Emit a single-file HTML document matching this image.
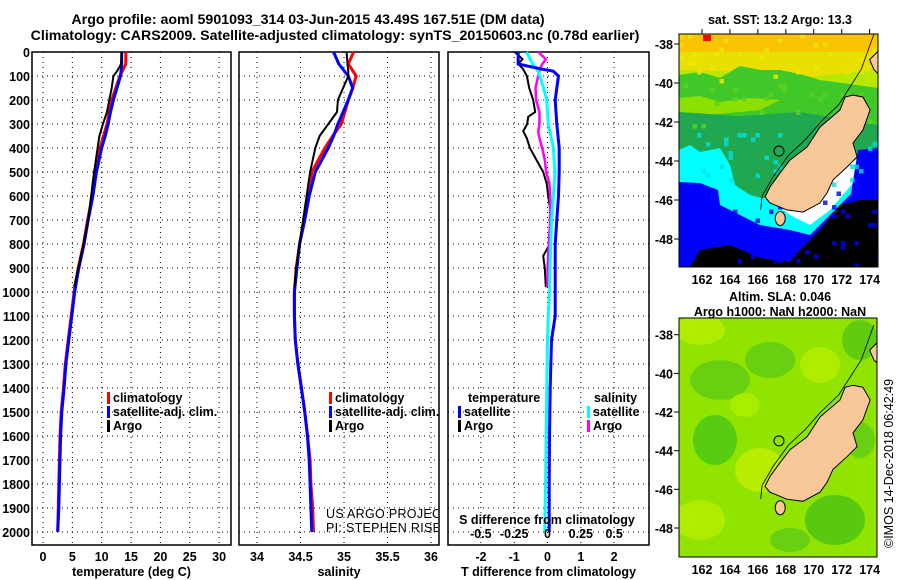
<!DOCTYPE html>
<html><head><meta charset="utf-8"><style>
html,body{margin:0;padding:0;background:#fff;}
svg{display:block;font-family:"Liberation Sans",sans-serif;}
.b{font-weight:bold;font-size:12.5px;}
</style></head><body>
<svg id="fig" width="900" height="580" viewBox="0 0 900 580" xmlns="http://www.w3.org/2000/svg">
<text class="b" x="308" y="24" text-anchor="middle" style="font-size:14.2px">Argo profile: aoml 5901093_314 03-Jun-2015 43.49S 167.51E (DM data)</text>
<text class="b" x="335" y="40" text-anchor="middle" style="font-size:14.2px">Climatology: CARS2009. Satellite-adjusted climatology: synTS_20150603.nc (0.78d earlier)</text>
<g id="maps"></g>
<g id="plots"></g>
</svg>
<script>
// ---- profile data ----
const tDepth = [0,50,100,150,200,250,300,350,400,500,600,700,800,900,1000,1100,1200,1300,1400,1500,1600,1700,1800,1900,2000];
const tClim  = [14.1,14.1,13.1,12.4,11.7,11.3,10.9,10.3,9.7,9.0,8.4,7.6,6.9,6.0,5.3,4.8,4.3,3.8,3.5,3.1,2.9,2.8,2.7,2.6,2.5];
const tSat   = [13.4,13.4,13.2,12.6,12.0,11.5,11.1,10.6,10.0,9.1,8.5,7.7,7.0,6.1,5.4,4.9,4.4,3.9,3.6,3.2,3.0,2.9,2.8,2.7,2.5];
const aDepth = [0,50,80,100,150,200,250,300,350,400,500,600,700,800,900,980];
const tArgo  = [13.4,13.3,12.6,12.0,11.7,11.3,10.9,10.2,9.6,9.3,8.7,8.2,7.7,6.9,6.0,5.3];
const sClim  = [35.11,35.05,35.14,35.10,35.05,35.01,34.97,34.87,34.78,34.63,34.59,34.54,34.49,34.45,34.43,34.43,34.44,34.47,34.51,34.55,34.58,34.61,34.62,34.64,34.65];
const sSat   = [34.88,34.94,35.05,35.10,35.05,34.99,34.93,34.88,34.82,34.67,34.60,34.55,34.49,34.46,34.43,34.43,34.44,34.47,34.51,34.55,34.58,34.60,34.61,34.62,34.63];
const sArgo  = [35.03,35.04,35.05,35.05,34.99,34.93,34.92,34.82,34.72,34.67,34.61,34.57,34.53,34.49,34.45,34.43];
// differences
const dDepth = [0,30,50,70,100,150,200,250,270,300,330,360,400,450,500,550,600,700,800,850,900,980];
const dTArgo = [-0.98,-0.75,-0.88,-0.74,-0.62,-0.55,-0.43,-0.37,-0.58,-0.61,-0.73,-0.62,-0.53,-0.33,-0.13,-0.02,0.02,0.13,0.07,-0.13,-0.08,-0.05];
const dSArgo = [-0.07,-0.011,-0.04,-0.056,-0.07,-0.09,-0.085,-0.06,-0.06,-0.06,-0.07,-0.06,-0.04,-0.02,-0.01,0.015,0.02,0.02,0.01,0.005,0.0,0.0];
const sdDepth = [0,30,50,70,80,100,150,200,300,400,500,600,700,800,900,1000,1100,1200,1400,1600,1800,2000];
const dTSat  = [-0.88,-0.88,-0.88,-0.22,0.17,0.33,0.28,0.23,0.28,0.35,0.35,0.33,0.28,0.23,0.23,0.23,0.23,0.12,0.08,0.06,0.05,0.05];
const dSSat  = [-0.156,-0.13,-0.11,-0.08,-0.07,-0.056,-0.03,-0.006,0.006,0.044,0.056,0.044,0.03,0.025,0.019,0.015,0.006,0.0,-0.005,-0.01,-0.015,-0.02];
const depthTicks = [0,100,200,300,400,500,600,700,800,900,1000,1100,1200,1300,1400,1500,1600,1700,1800,1900,2000];
const tTicks = [0,5,10,15,20,25,30];
const sTicks = [34,34.5,35,35.5,36];
const sTickLabels = ["34","34.5","35","35.5","36"];
const dTTicks = [-2,-1,0,1,2];
const dSTicks = [-0.5,-0.25,0,0.25,0.5];
const dSTickLabels = ["-0.5","-0.25","0","0.25","0.5"];
// island outline (lon,lat)
const islandLon = [172.81,172.24,171.88,170.45,169.52,168.30,167.58,166.87,166.51,166.87,168.08,169.23,170.45,170.95,171.38,172.38,173.10,172.81,173.52,174.03,173.52];
const islandLat = [-40.62,-40.72,-41.38,-42.26,-43.28,-43.95,-44.62,-45.33,-45.85,-46.15,-46.51,-46.62,-46.15,-45.64,-44.97,-44.31,-43.79,-43.08,-42.41,-41.38,-40.72];
const lonTicks = [162,164,166,168,170,172,174];
const latTicks = [-38,-40,-42,-44,-46,-48];
const argoLon = 167.51, argoLat = -43.49;

const NS="http://www.w3.org/2000/svg";
const plots=document.getElementById('plots'), maps=document.getElementById('maps');
function mk(tag,attrs,parent,txt){const e=document.createElementNS(NS,tag);for(const k in attrs)e.setAttribute(k,attrs[k]);if(txt!==undefined)e.textContent=txt;(parent||plots).appendChild(e);return e;}
const Y=d=>52+d*0.24;
const TOP=52,BOT=545;

function panel(name,x0,x1,xs,ticks,labels,xtitle){
  const g=mk('g',{},plots);
  
  
  const fr=mk('rect',{x:x0,y:TOP,width:x1-x0,height:BOT-TOP,fill:'#fff',stroke:'#000','stroke-width':1.5},g);
  
  
  depthTicks.forEach(d=>{const l=mk('line',{x1:x0,x2:x1,y1:Y(d),y2:Y(d),stroke:'#000','stroke-width':1,'stroke-dasharray':'1,4'},g);
    
    });
  ticks.forEach((t,i)=>{const x=xs(t);const l=mk('line',{x1:x,x2:x,y1:TOP,y2:BOT,stroke:'#000','stroke-width':1,'stroke-dasharray':'1,4'},g);
    
    
    if(labels){const t2=mk('text',{x:x,y:561,'text-anchor':'middle',class:'b'},g,labels[i]);
    
    }});
  if(xtitle){const t=mk('text',{x:(x0+x1)/2,y:576,'text-anchor':'middle',class:'b'},g,xtitle);
  
  }
  return g;
}
function line(g,xs,xv,dv,col,w,name){
  const pts=xv.map((v,i)=>xs(v).toFixed(1)+','+Y(dv[i]).toFixed(1)).join(' ');
  const p=mk('polyline',{points:pts,fill:'none',stroke:col,'stroke-width':w,'stroke-linejoin':'miter'},g);
  
  
}
function legend(g,x,y,col,label){
  const r=mk('rect',{x:x,y:y-10,width:3,height:12,fill:col},g);
  
  
  const t=mk('text',{x:x+6,y:y,class:'b'},g,label);
  
  
}
// y tick labels
depthTicks.forEach(d=>{const t=mk('text',{x:30,y:Y(d)+5,'text-anchor':'end',class:'b'},plots,String(d));
  
  });

// panel 1 temperature
const xT=v=>43+v*5.87;
const g1=panel('temperature-panel',32,231,xT,tTicks,tTicks.map(String),'temperature (deg C)');
line(g1,xT,tClim,tDepth,'#f00',3,'temperature-climatology-line');
line(g1,xT,tSat,tDepth,'#00f',3,'temperature-satellite-line');
line(g1,xT,tArgo,aDepth,'#000',2,'temperature-argo-line');
legend(g1,107,402,'#f00','climatology');
legend(g1,107,416,'#00f','satellite-adj. clim.');
legend(g1,107,430,'#000','Argo');

// panel 2 salinity
const xS=v=>257+(v-34)*87;
const g2=panel('salinity-panel',239,439,xS,sTicks,sTickLabels,'salinity');
line(g2,xS,sClim,tDepth,'#f00',3,'salinity-climatology-line');
line(g2,xS,sSat,tDepth,'#00f',3,'salinity-satellite-line');
line(g2,xS,sArgo,aDepth,'#000',2,'salinity-argo-line');
legend(g2,329,402,'#f00','climatology');
legend(g2,329,416,'#00f','satellite-adj. clim.');
legend(g2,329,430,'#000','Argo');
const cl=mk('clipPath',{id:'c2'},g2);mk('rect',{x:239,y:52,width:199,height:493},cl);
const cr=mk('g',{'clip-path':'url(#c2)'},g2);
const u1=mk('text',{x:326,y:518,'font-size':'12.5','letter-spacing':'0.3'},cr,'US ARGO PROJECT');


const u2=mk('text',{x:326,y:532,'font-size':'12.5','letter-spacing':'0.3'},cr,'PI: STEPHEN RISER');



// panel 3 differences
const xD=v=>547.5+v*33.3;
const xDS=v=>547.5+v*133.3;
const g3=panel('difference-panel',448,649,xD,dTTicks,dTTicks.map(String),'T difference from climatology');
line(g3,xD,dTArgo,dDepth,'#000',2,'t-diff-argo-line');
line(g3,xDS,dSArgo,dDepth,'#f0f',2.5,'s-diff-argo-line');
line(g3,xDS,dSSat,sdDepth,'#0ff',3,'s-diff-satellite-line');
line(g3,xD,dTSat,sdDepth,'#00f',3,'t-diff-satellite-line');
const lt=mk('text',{x:468,y:402,class:'b'},g3,'temperature');


legend(g3,458,416,'#00f','satellite');
legend(g3,458,430,'#000','Argo');
const ls=mk('text',{x:594,y:402,class:'b'},g3,'salinity');


legend(g3,587,416,'#0ff','satellite');
legend(g3,587,430,'#f0f','Argo');
const st=mk('text',{x:547,y:524,'text-anchor':'middle',class:'b'},g3,'S difference from climatology');


dSTicks.forEach((v,i)=>{const t=mk('text',{x:xDS(v),y:538,'text-anchor':'middle',class:'b'},g3,dSTickLabels[i]);
  
  });

// ---- maps ----
const LX=lon=>702+(lon-162)*13.97;
const L1Y=lat=>44+(-38-lat)*19.5;
const L2Y=lat=>334.7+(-38-lat)*19.33;
function mapFrame(name){
  const g=mk('g',{},maps);
  
  
  return g;
}
// map1 zones (SST image)
const m1=mapFrame('sst-map');
const cp1=mk('clipPath',{id:'cm1'},m1);mk('rect',{x:679,y:34,width:199,height:233},cp1);
const z1=mk('g',{'clip-path':'url(#cm1)'},m1);
const zones1=[
 ['#f8c400','679,34 878,34 878,70 679,70'],
 ['#e8e000','679,52 878,52 878,95 830,100 780,80 720,82 679,88'],
 ['#b8e800','679,70 760,72 800,78 878,70 878,120 679,118'],
 ['#40c828','679,75 700,72 720,78 740,66 760,70 780,70 800,74 820,80 878,88 878,125 679,112'],
 ['#8ce000','679,98 700,96 720,102 750,98 780,100 760,110 679,118'],
 ['#20a850','679,112 740,116 800,112 878,125 878,150 760,200 700,190 679,180'],
 ['#00ffff','679,150 690,145 700,152 720,148 730,165 735,185 750,195 770,200 790,215 810,225 830,210 860,175 878,160 878,200 800,245 720,250 679,230'],
 ['#0000ff','679,182 700,183 718,190 720,205 740,215 760,225 790,230 810,235 830,215 850,195 878,180 878,267 679,267'],
 ['#0000ff','858,150 878,148 878,190 850,200'],
 ['#000','700,250 730,245 760,258 790,262 800,250 820,230 840,205 860,200 878,200 878,267 690,267'],
];
zones1.forEach(z=>{const p=mk('polygon',{points:z[1],fill:z[0]},z1);
  
  });
mk('rect',{x:703,y:35,width:8,height:6,fill:'#f00'},z1);
// blocky texture
for(let i=0;i<45;i++){for(let j=0;j<52;j++){const h=Math.sin(i*12.9898+j*78.233)*43758.5453;const f=h-Math.floor(h);if(f<0.06){const x=679+i*4.5,y=34+j*4.5;mk('rect',{x:x,y:y,width:4.5,height:4.5,fill:y<80?'#f0e800':y<130?'#60d020':y<190?'#00e0e0':'#0000f0','opacity':0.8},z1);}}}
function island(g,LY){
  const pts=islandLon.map((lo,i)=>LX(lo).toFixed(1)+','+LY(islandLat[i]).toFixed(1)).join(' ');
  const p=mk('polygon',{points:pts,fill:'#f8c898',stroke:'#000','stroke-width':1},g);
  
  
  const s=mk('ellipse',{cx:LX(167.6),cy:LY(-46.95),rx:5,ry:7,fill:'#f8c898',stroke:'#000','stroke-width':1},g);
  
  
  const n=mk('polygon',{points:[[174.0,-38.8],[174.7,-38.3],[174.7,-39.6],[174.3,-39.3]].map(a=>LX(a[0])+','+LY(a[1])).join(' '),fill:'#f8c898',stroke:'#000','stroke-width':1},g);
  
  
  const c=mk('polyline',{points:[[174.3,-37.5],[173.4,-39.3],[172.6,-40.2],[171.8,-41.1],[170.5,-42.0],[169.4,-42.9],[168.2,-43.7],[167.1,-44.8],[166.3,-45.8],[166.2,-46.5]].map(a=>LX(a[0])+','+LY(a[1])).join(' '),fill:'none',stroke:'#000','stroke-width':0.8},g);
  
  
  const a=mk('circle',{cx:LX(argoLon),cy:LY(argoLat),r:5,fill:'none',stroke:'#000','stroke-width':1},g);
  
  
}
island(z1,L1Y);
mk('rect',{x:679,y:34,width:199,height:233,fill:'none',stroke:'#000','stroke-width':1},m1);
// map2 SLA
const m2=mapFrame('sla-map');
const cp2=mk('clipPath',{id:'cm2'},m2);mk('rect',{x:679,y:318,width:198,height:239},cp2);
const z2=mk('g',{'clip-path':'url(#cm2)'},m2);
mk('rect',{x:679,y:318,width:198,height:239,fill:'#90e400'},z2);
const blobs=[[700,330,25,15,'#b0ec00'],[720,380,30,20,'#68d010'],[770,360,25,18,'#68d010'],[715,440,22,25,'#58cc10'],[760,470,25,22,'#b8ec00'],[835,520,30,25,'#58c810'],[820,365,20,18,'#b0ec00'],[700,520,25,20,'#b0ec00'],[790,540,20,12,'#68d010'],[860,340,18,20,'#60cc10'],[745,405,15,12,'#a8ec00'],[860,440,15,18,'#68d010']];
blobs.forEach(b=>{const e=mk('ellipse',{cx:b[0],cy:b[1],rx:b[2],ry:b[3],fill:b[4]},z2);
  
  });
island(z2,L2Y);
mk('rect',{x:679,y:318,width:198,height:239,fill:'none',stroke:'#000','stroke-width':1},m2);
// map axes
function mapAxes(LY,xlabY,ys,ye){
  latTicks.forEach(la=>{const y=LY(la);if(y<ys||y>ye)return;
    mk('line',{x1:674,x2:679,y1:y,y2:y,stroke:'#000'},maps);
    const t=mk('text',{x:673,y:y+5,'text-anchor':'end',class:'b'},maps,String(la));
    
    });
  lonTicks.forEach(lo=>{const x=LX(lo);
    const t=mk('text',{x:x,y:xlabY,'text-anchor':'middle',class:'b'},maps,String(lo));
    
    });
}
mapAxes(L1Y,284,34,267);
mapAxes(L2Y,574,318,557);
lonTicks.forEach(lo=>mk('line',{x1:LX(lo),x2:LX(lo),y1:29,y2:34,stroke:'#000'},maps));
const mt=mk('text',{x:780,y:24,'text-anchor':'middle',class:'b'},maps,'sat. SST: 13.2 Argo: 13.3');


const mt2=mk('text',{x:780,y:301,'text-anchor':'middle',class:'b'},maps,'Altim. SLA: 0.046');


const mt3=mk('text',{x:780,y:316,'text-anchor':'middle',class:'b'},maps,'Argo h1000: NaN h2000: NaN');


const cr2=mk('text',{x:0,y:0,'font-size':'12.5',transform:'translate(893,548) rotate(-90)'},maps,'\u00A9IMOS 14-Dec-2018 06:42:49');


</script>
</body></html>
